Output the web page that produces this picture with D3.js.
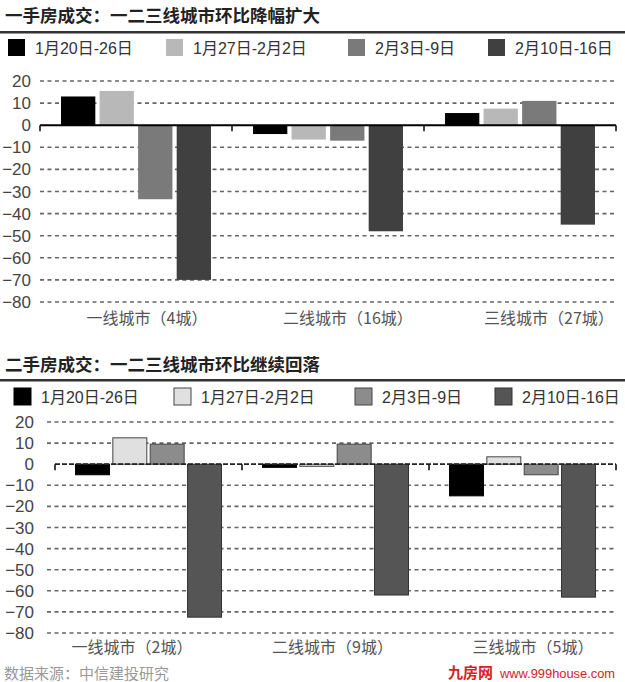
<!DOCTYPE html>
<html><head><meta charset="utf-8">
<script src="https://cdn.jsdelivr.net/npm/d3@7/dist/d3.min.js"></script>
<style>
body{margin:0;background:#fff;}
svg{display:block;font-family:"Liberation Sans","Noto Sans CJK SC",sans-serif;}
</style></head>
<body>
<svg id="c" width="625" height="682"></svg>
<script>
// ---- data ----
const seriesNames = ["1月20日-26日", "1月27日-2月2日", "2月3日-9日", "2月10日-16日"];
const yTicks = [20, 10, 0, -10, -20, -30, -40, -50, -60, -70, -80];

const newTitle = "一手房成交：一二三线城市环比降幅扩大";
const newCats = ["一线城市（4城）", "二线城市（16城）", "三线城市（27城）"];
const newS1 = [13, -4, 5.5];
const newS2 = [15.5, -6.5, 7.5];
const newS3 = [-33.5, -7, 11];
const newS4 = [-70, -48, -45];

const usedTitle = "二手房成交：一二三线城市环比继续回落";
const usedCats = ["一线城市（2城）", "二线城市（9城）", "三线城市（5城）"];
const usedS1 = [-5, -1.5, -15];
const usedS2 = [12.5, -1, 3.5];
const usedS3 = [9.5, 9.5, -5];
const usedS4 = [-72.5, -62, -63];

const sourceText = "数据来源：中信建投研究";
const watermark = ["九房网", "www.999house.com"];

// ---- drawing ----
const svg = d3.select("#c");

function drawChart(cfg) {
  const g = svg.append("g");
  // title
  g.append("text").attr("x", 5).attr("y", cfg.titleY)
    .attr("font-size", 17.5).attr("font-weight", "bold").attr("fill", "#222")
    .attr("font-family", "'Noto Sans CJK SC',sans-serif")
    .text(cfg.title);
  g.append("rect").attr("x", 0).attr("y", cfg.ruleY).attr("width", 625).attr("height", 2.5).attr("fill", "#333");

  // legend
  const legX = cfg.legX;
  cfg.series.forEach((name, i) => {
    g.append("rect").attr("x", legX[i]).attr("y", cfg.legY)
      .attr("width", 17).attr("height", 17)
      .attr("fill", cfg.colors[i])
      .attr("stroke", cfg.stroke ? cfg.strokes[i] : "none").attr("stroke-width", 1);
    g.append("text").attr("x", legX[i] + cfg.legGap).attr("y", cfg.legY + 15)
      .attr("font-size", 16).attr("fill", "#333").text(name);
  });

  const y = d3.scaleLinear().domain([-80, 20]).range([cfg.yBot, cfg.yTop]);
  const x0 = d3.scaleBand().domain(cfg.cats).range([cfg.xL, cfg.xR]).padding(0);
  const bw = x0.bandwidth();
  const x1 = d3.scaleBand().domain(d3.range(4)).range([cfg.inMargin, bw - cfg.inMargin]).paddingInner(cfg.innerPad).paddingOuter(0);

  // gridlines
  g.selectAll(".grid").data(yTicks.filter(d => d !== 0)).join("line")
    .attr("x1", cfg.gridL).attr("x2", cfg.xR)
    .attr("y1", d => y(d)).attr("y2", d => y(d))
    .attr("stroke", "#666").attr("stroke-width", 1.6).attr("stroke-dasharray", "4,3.5");

  // y labels
  g.selectAll(".yl").data(yTicks).join("text")
    .attr("x", cfg.yLabX).attr("y", d => y(d) + 6)
    .attr("text-anchor", "end").attr("font-size", 17).attr("fill", "#444")
    .text(d => d < 0 ? "\u2212" + Math.abs(d) : d);

  // bars
  const rows = cfg.cats.map((c, ci) => cfg.vals.map(s => s[ci]));
  cfg.cats.forEach((c, ci) => {
    rows[ci].forEach((v, si) => {
      g.append("rect")
        .attr("x", x0(c) + x1(si)).attr("width", x1.bandwidth())
        .attr("y", y(Math.max(0, v))).attr("height", Math.abs(y(v) - y(0)))
        .attr("fill", cfg.colors[si])
        .attr("stroke", cfg.stroke ? cfg.strokes[si] : "none").attr("stroke-width", 1);
    });
  });

  // zero axis
  const ax = g.append("line").attr("x1", cfg.xL).attr("x2", cfg.xR)
    .attr("y1", y(0)).attr("y2", y(0)).attr("stroke", cfg.axisColor).attr("stroke-width", cfg.axisW);
  if (cfg.axisDash) ax.attr("stroke-dasharray", cfg.axisDash);
  const bounds = cfg.cats.map(c => x0(c)).concat([cfg.xR]);
  g.selectAll(".tk").data(bounds).join("line")
    .attr("x1", d => d).attr("x2", d => d)
    .attr("y1", y(0)).attr("y2", y(0) + 6)
    .attr("stroke", "#111").attr("stroke-width", 1.6);

  // category labels
  const xl = d3.scalePoint().domain(cfg.cats).range(cfg.labRange);
  g.selectAll(".cl").data(cfg.cats).join("text")
    .attr("x", d => xl(d)).attr("y", cfg.labY)
    .attr("text-anchor", "middle").attr("font-size", 16).attr("fill", "#555")
    .attr("font-family", "'Noto Sans CJK SC',sans-serif")
    .text(d => d);
}

drawChart({
  title: newTitle, titleY: 22, ruleY: 31,
  series: seriesNames, legX: [8, 166, 348, 488], legY: 39, legGap: 27,
  colors: ["#000000", "#b8b8b8", "#7a7a7a", "#404040"], stroke: false,
  cats: newCats, vals: [newS1, newS2, newS3, newS4],
  xL: 40, xR: 616, yTop: 81, yBot: 302, gridL: 40,
  inMargin: 21, innerPad: 0.11, yLabX: 31,
  axisColor: "#000", axisW: 2, axisDash: null,
  labRange: [147, 549], labY: 324
});

drawChart({
  title: usedTitle, titleY: 371, ruleY: 379,
  series: seriesNames, legX: [14, 174, 355, 495], legY: 388, legGap: 27,
  colors: ["#000000", "#e0e0e0", "#8c8c8c", "#555555"], stroke: true,
  strokes: ["#000", "#444", "#444", "#333"],
  cats: usedCats, vals: [usedS1, usedS2, usedS3, usedS4],
  xL: 55, xR: 616, yTop: 422, yBot: 633, gridL: 47,
  inMargin: 20.5, innerPad: 0.09, yLabX: 34,
  axisColor: "#222", axisW: 1.8, axisDash: "5,2",
  labRange: [132, 533], labY: 653
});

svg.append("text").attr("x", 4).attr("y", 679).attr("font-size", 15).attr("fill", "#999")
  .attr("font-family", "'Noto Sans CJK SC',sans-serif").text(sourceText);

// watermark (kept on the bottom row, clear of the category label)
svg.append("text").attr("x", 448).attr("y", 678).attr("font-size", 15).attr("fill", "#d42128")
  .attr("font-weight", "bold")
  .attr("font-family", "'Noto Sans CJK SC',sans-serif")
  .text(watermark[0]);
svg.append("text").attr("x", 500).attr("y", 678).attr("font-size", 12).attr("fill", "#d42128")
  .attr("textLength", 115).attr("lengthAdjust", "spacingAndGlyphs")
  .text(watermark[1]);
</script>
</body></html>
